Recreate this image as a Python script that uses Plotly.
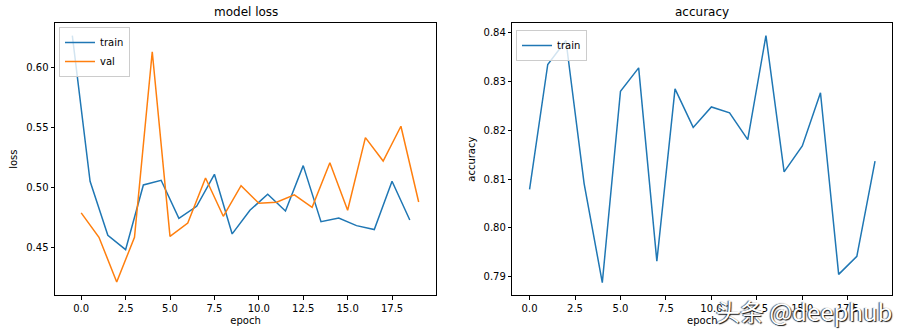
import plotly.graph_objects as go

# Training history: loss (train offset by half an epoch) and accuracy
train_loss_epoch = [e - 0.5 for e in range(20)]
train_loss = [0.627, 0.5056, 0.4606, 0.4486, 0.5025, 0.5064, 0.4747, 0.4847, 0.5114, 0.4617,
              0.4814, 0.4947, 0.4808, 0.5186, 0.4719, 0.4750, 0.4686, 0.4653, 0.5056, 0.4733]
val_loss_epoch = list(range(20))
val_loss = [0.4792, 0.4589, 0.4217, 0.4589, 0.6135, 0.4597, 0.4708, 0.5083, 0.4764, 0.5019,
            0.4872, 0.4881, 0.4942, 0.4839, 0.5210, 0.4814, 0.5419, 0.5224, 0.5514, 0.4883]
acc_epoch = list(range(20))
train_acc = [0.8079, 0.8335, 0.8384, 0.8091, 0.7888, 0.8280, 0.8328, 0.7932, 0.8285, 0.8206,
             0.8248, 0.8236, 0.8181, 0.8394, 0.8115, 0.8168, 0.8277, 0.7905, 0.7942, 0.8137]

BLUE = "#1f77b4"
ORANGE = "#ff7f0e"
FONT = "DejaVu Sans"

fig = go.Figure()
fig.add_trace(go.Scatter(x=train_loss_epoch, y=train_loss, mode="lines", name="train",
                         line=dict(color=BLUE, width=1.5), xaxis="x", yaxis="y", legend="legend"))
fig.add_trace(go.Scatter(x=val_loss_epoch, y=val_loss, mode="lines", name="val",
                         line=dict(color=ORANGE, width=1.5), xaxis="x", yaxis="y", legend="legend"))
fig.add_trace(go.Scatter(x=acc_epoch, y=train_acc, mode="lines", name="train",
                         line=dict(color=BLUE, width=1.5), xaxis="x2", yaxis="y2", legend="legend2"))

W, H = 900, 333
dom_y = [1 - 295 / H, 1 - 23.3 / H]

axis_common = dict(showline=True, linecolor="black", linewidth=1, mirror=True,
                   ticks="outside", ticklen=3.5, tickwidth=0.8, tickcolor="black",
                   showgrid=False, zeroline=False,
                   tickfont=dict(family=FONT, size=10, color="black"))

def ax_title(t, standoff):
    return dict(text=t, font=dict(family=FONT, size=10, color="black"), standoff=standoff)

fig.update_layout(
    width=W, height=H,
    margin=dict(l=0, r=0, t=0, b=0),
    paper_bgcolor="white", plot_bgcolor="white",
    xaxis=dict(domain=[55 / W, 436 / W], range=[-1.475, 19.975], dtick=2.5, tick0=0,
               tickformat=".1f", anchor="y", title=ax_title("epoch", 4), **axis_common),
    yaxis=dict(domain=dom_y, range=[0.4108, 0.6372], dtick=0.05, tick0=0.45,
               tickformat=".2f", anchor="x", title=ax_title("loss", 6), **axis_common),
    xaxis2=dict(domain=[512.3 / W, 892.3 / W], range=[-0.95, 19.95], dtick=2.5, tick0=0,
                tickformat=".1f", anchor="y2", title=ax_title("epoch", 4), **axis_common),
    yaxis2=dict(domain=dom_y, range=[0.78627, 0.84193], dtick=0.01, tick0=0.79,
                tickformat=".2f", anchor="x2", title=ax_title("accuracy", 6), **axis_common),
    legend=dict(x=59 / W, y=1 - 27 / H, xanchor="left", yanchor="top",
                bgcolor="rgba(255,255,255,0.8)", bordercolor="#cccccc", borderwidth=1,
                font=dict(family=FONT, size=10, color="black"), itemwidth=30,
                tracegroupgap=0),
    legend2=dict(x=516 / W, y=1 - 30 / H, xanchor="left", yanchor="top",
                 bgcolor="rgba(255,255,255,0.8)", bordercolor="#cccccc", borderwidth=1,
                 font=dict(family=FONT, size=10, color="black"), itemwidth=30),
    showlegend=True,
)

fig.add_annotation(text="model loss", x=(55 + 436) / 2 / W, y=1 - 12 / H, xref="paper", yref="paper",
                   showarrow=False, xanchor="center", yanchor="middle",
                   font=dict(family=FONT, size=12, color="black"))
fig.add_annotation(text="accuracy", x=(512.3 + 892.3) / 2 / W, y=1 - 12 / H, xref="paper", yref="paper",
                   showarrow=False, xanchor="center", yanchor="middle",
                   font=dict(family=FONT, size=12, color="black"))

# Watermark
fig.add_annotation(text="头条 @deephub", x=894 / W, y=1 - 310 / H, xref="paper", yref="paper",
                   showarrow=False, xanchor="right", yanchor="middle",
                   font=dict(family="Noto Sans CJK SC", size=24, color="white",
                             shadow="1px 1px 1px #111, -1px 0px 1px #444"))

fig.write_html("out.html")
